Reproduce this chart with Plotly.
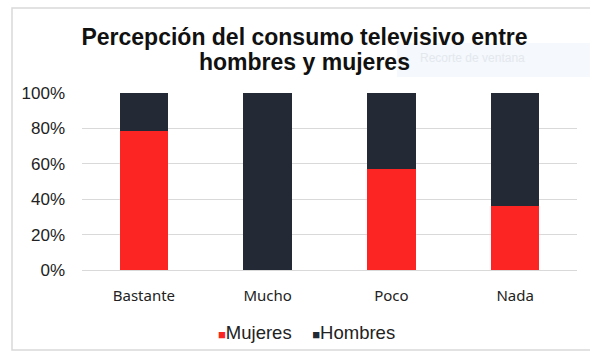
import plotly.graph_objects as go

categories = ["Bastante", "Mucho", "Poco", "Nada"]
mujeres = [78.4, 0, 57.1, 36.3]
hombres = [21.6, 100, 42.9, 63.7]
tick_vals = [0, 20, 40, 60, 80, 100]
tick_text = ["0%", "20%", "40%", "60%", "80%", "100%"]
series_names = ["Mujeres", "Hombres"]
series_colors = ["#fd2424", "#232a35"]
title_lines = ["Percepción del consumo televisivo entre", "hombres y mujeres"]

fig = go.Figure()
fig.add_trace(go.Bar(x=categories, y=mujeres, name=series_names[0], marker_color=series_colors[0],
                     marker_line_width=0))
fig.add_trace(go.Bar(x=categories, y=hombres, name=series_names[1], marker_color=series_colors[1],
                     marker_line_width=0))

W, H = 590, 354
ml, mr, mt, mb = 82, 13, 93, 84
pw, ph = W - ml - mr, H - mt - mb

def px_x(x):
    return (x - ml) / pw

def px_y(y):
    return (H - mb - y) / ph

fig.update_layout(
    width=W, height=H,
    barmode="stack", bargap=0.61,
    margin=dict(l=ml, r=mr, t=mt, b=mb),
    paper_bgcolor="white", plot_bgcolor="white",
    font=dict(family="Arial, Liberation Sans", color="#222"),
    title=dict(text=f"<b>{title_lines[0]}</b>",
               x=304.5 / W, xanchor="center", y=1 - 37 / H, yanchor="middle",
               font=dict(size=23, color="#111")),
    xaxis=dict(showgrid=False, showline=True, linecolor="#d9d9d9", linewidth=1,
               tickfont=dict(family="Noto Sans, Open Sans", size=15, color="#222"),
               ticks="", ticklabelstandoff=12),
    yaxis=dict(range=[0, 100], tickvals=tick_vals, ticktext=tick_text,
               showgrid=True, gridcolor="#d9d9d9", gridwidth=1, zeroline=False,
               tickfont=dict(size=17, color="#222"), ticks="", ticklabelstandoff=16),
    showlegend=False,
)

# second title line
fig.add_annotation(xref="paper", yref="paper", x=px_x(304.5), y=px_y(62),
                   xanchor="center", yanchor="middle", showarrow=False,
                   text=f"<b>{title_lines[1]}</b>", font=dict(size=23, color="#111"))

# legend drawn as text
legend_html = "".join(
    f'<span style="color:{c};font-size:13px">■</span>{n}' + ("&nbsp;&nbsp;&nbsp;&nbsp;" if i == 0 else "")
    for i, (n, c) in enumerate(zip(series_names, series_colors))
)
fig.add_annotation(xref="paper", yref="paper", x=px_x(306), y=px_y(332),
                   xanchor="center", yanchor="middle", showarrow=False,
                   text=legend_html, font=dict(size=18.5, color="#222"))

# chart frame
fig.add_shape(type="rect", xref="paper", yref="paper",
              x0=px_x(12), x1=px_x(640), y0=px_y(350), y1=px_y(8),
              line=dict(color="#d9d9d9", width=1.5), fillcolor="rgba(0,0,0,0)", layer="below")
# faint window-clipping overlay
fig.add_shape(type="rect", xref="paper", yref="paper",
              x0=px_x(397), x1=px_x(600), y0=px_y(77), y1=px_y(43),
              line=dict(width=0), fillcolor="rgba(225,235,245,0.35)", layer="below")
fig.add_annotation(xref="paper", yref="paper", x=px_x(418), y=px_y(58),
                   xanchor="left", yanchor="middle", showarrow=False,
                   text="Recorte de ventana", font=dict(size=12, color="#e3e8ee"))

fig.write_html("out.html")
